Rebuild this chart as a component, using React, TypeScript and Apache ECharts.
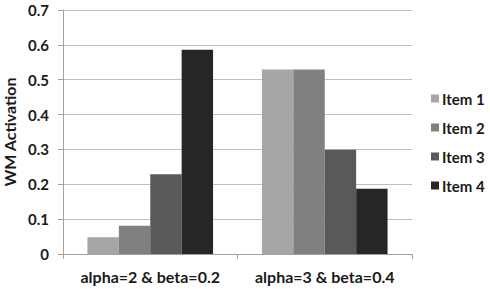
import React, { useEffect, useRef } from "react";
import * as echarts from "echarts";

const categories = ["alpha=2 & beta=0.2", "alpha=3 & beta=0.4"];
const seriesNames = ["Item 1", "Item 2", "Item 3", "Item 4"];
const item1 = [0.048, 0.529];
const item2 = [0.081, 0.529];
const item3 = [0.229, 0.299];
const item4 = [0.586, 0.187];
const seriesValues = [item1, item2, item3, item4];
const colors = ["#a6a6a6", "#808080", "#595959", "#262626"];

const FONT = "Lato, 'Open Sans', sans-serif";

export default function App() {
  const ref = useRef<HTMLDivElement>(null);
  useEffect(() => {
    if (!ref.current) return;
    const chart = echarts.init(ref.current, undefined, { renderer: "svg" });
    chart.setOption({
      animation: false,
      backgroundColor: "#ffffff",
      grid: { left: 63, right: 78, top: 10, bottom: 35, containLabel: false, outerBoundsMode: "none" },
      legend: {
        orient: "vertical",
        left: 426,
        top: 86,
        itemWidth: 8,
        itemHeight: 8,
        itemGap: 14,
        icon: "rect",
        data: seriesNames,
        textStyle: { fontFamily: FONT, fontWeight: "bold", fontSize: 15, color: "#1a1a1a", padding: [0, 0, 0, -2] },
      },
      xAxis: {
        type: "category",
        data: categories,
        axisLine: { show: true, lineStyle: { color: "#a0a0a0", width: 1 } },
        axisTick: { show: true, length: 5, lineStyle: { color: "#a0a0a0" } },
        axisLabel: { interval: 0, fontFamily: FONT, fontWeight: "bold", fontSize: 16, color: "#1a1a1a", margin: 14 },
      },
      yAxis: {
        type: "value",
        min: 0,
        max: 0.7,
        interval: 0.1,
        name: "WM Activation",
        nameLocation: "middle",
        nameGap: 44,
        nameTextStyle: { fontFamily: FONT, fontWeight: "bold", fontSize: 16, color: "#1a1a1a" },
        axisLine: { show: true, lineStyle: { color: "#a0a0a0", width: 1 } },
        axisTick: { show: true, length: 5, lineStyle: { color: "#a0a0a0" } },
        splitLine: { show: true, lineStyle: { color: "#bfbfbf", width: 1 } },
        axisLabel: {
          fontFamily: FONT,
          fontWeight: "bold",
          fontSize: 15,
          color: "#1a1a1a",
          margin: 14,
          formatter: (v: number) => (v === 0 ? "0" : v.toFixed(1)),
        },
      },
      series: seriesNames.map((name, i) => ({
        name,
        type: "bar",
        data: seriesValues[i],
        barGap: "0%",
        barCategoryGap: "28%",
        itemStyle: { color: colors[i] },
      })),
    });
    return () => chart.dispose();
  }, []);
  return (
    <div
      ref={ref}
      style={{ position: "fixed", left: 0, top: 0, width: 490, height: 289, background: "#fff" }}
    />
  );
}
